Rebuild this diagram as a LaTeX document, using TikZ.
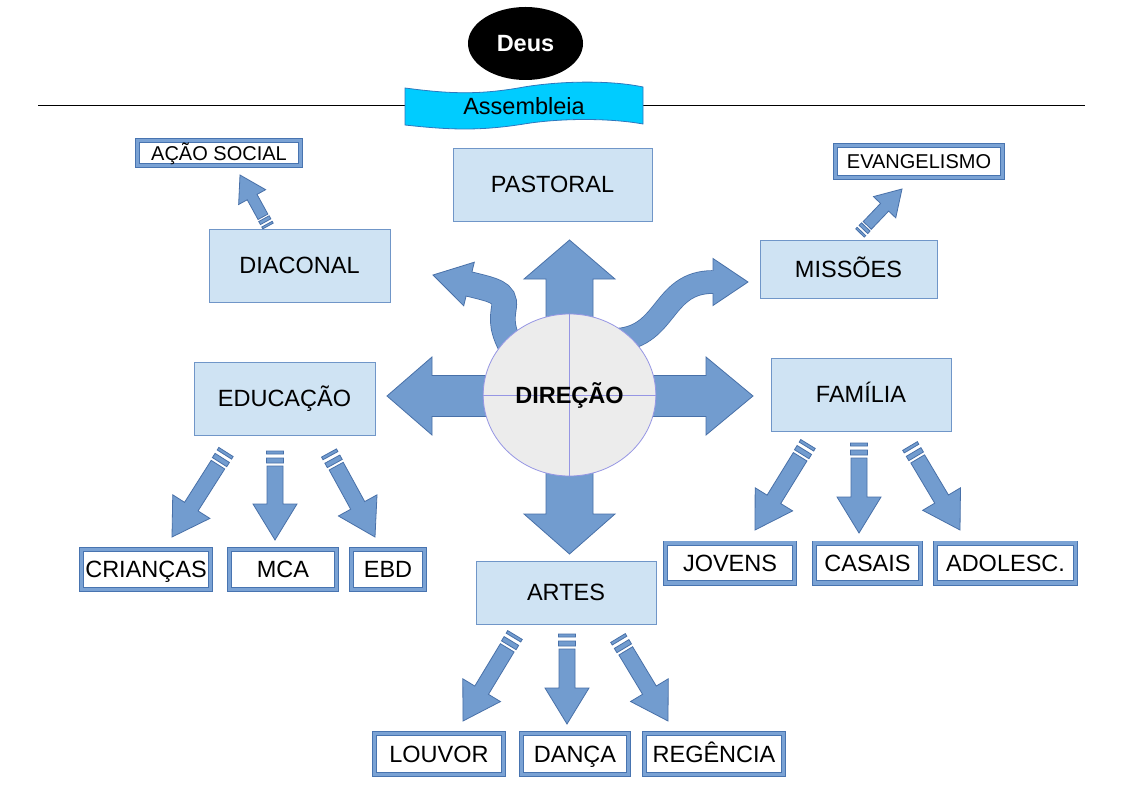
\documentclass[tikz,border=0pt]{standalone}
\usepackage{fontspec}
\setmainfont{Liberation Sans}
\usetikzlibrary{calc,shapes.geometric}
\definecolor{arrfill}{RGB}{114,156,207}
\definecolor{arrline}{RGB}{72,112,168}
\definecolor{boxfill}{RGB}{207,227,243}
\definecolor{boxline}{RGB}{112,150,200}
\definecolor{dblline}{RGB}{72,116,176}
\definecolor{dblfill}{RGB}{122,162,212}
\definecolor{bannerfill}{RGB}{0,204,255}
\definecolor{bannerline}{RGB}{45,120,190}
\definecolor{circfill}{RGB}{236,236,236}
\definecolor{circline}{RGB}{150,150,228}
\newcommand\sarrow[3]{%
  \filldraw[blk] let \p1=($(#2)-(#1)$), \n1={atan2(\y1,\x1)}, \n2={veclen(\x1,\y1)} in
    [shift={(#1)}, rotate=\n1]
    (0,-8.5*#3) -- (3*#3,-8.5*#3) -- (3*#3,8.5*#3) -- (0,8.5*#3) -- cycle
    (7*#3,-8.5*#3) -- (12*#3,-8.5*#3) -- (12*#3,8.5*#3) -- (7*#3,8.5*#3) -- cycle
    (15*#3,-8*#3) -- (\n2-36*#3,-8*#3) -- (\n2-36*#3,-22*#3) -- (\n2,0) -- (\n2-36*#3,22*#3) -- (\n2-36*#3,8*#3) -- (15*#3,8*#3) -- cycle;
}
\begin{document}
\begin{tikzpicture}[x=1pt,y=-1pt,
  big/.style={font=\fontsize{23.5}{28}\selectfont, text height=16.8pt, text depth=0pt},
  small/.style={font=\fontsize{20}{24}\selectfont, text height=14.3pt, text depth=0pt},
  unit/.style={big, draw=boxline, fill=boxfill, line width=0.8pt, inner sep=0pt},
  sub/.style={draw=dblline, double=dblfill, double distance=3.6pt, line width=0.8pt, fill=white, inner sep=0pt},
  blk/.style={fill=arrfill, draw=arrline, line width=0.8pt},
]
\useasboundingbox (0,0) rectangle (1123,794);
\fill[white] (0,0) rectangle (1123,794);

% horizontal rule and banner
\coordinate (lineL) at (38,106);
\coordinate (lineR) at (1085,106);
\draw[black, line width=1pt] (lineL) -- (lineR);
\filldraw[fill=bannerfill, draw=bannerline, line width=0.8pt]
  (405,88) .. controls (450,94) and (480,95) .. (524,87)
  .. controls (560,81) and (610,80) .. (643,87) -- (643,124)
  .. controls (610,118) and (560,118) .. (524,124)
  .. controls (480,131) and (450,130) .. (405,125) -- cycle;
\node[big] (assembleia) at (524,106) {Assembleia};

% Deus
\node[ellipse, fill=black, minimum width=115pt, minimum height=73pt, inner sep=0pt,
  text=white, font=\bfseries\fontsize{23.5}{28}\selectfont, text height=16.8pt, text depth=0pt]
  (deus) at (525.5,43.5) {Deus};

% big straight arrows
\filldraw[blk] (500,375.5) -- (432,375.5) -- (432,357) -- (387,396) -- (432,435) -- (432,416.5) -- (500,416.5) -- cycle;
\filldraw[blk] (640,375.5) -- (706,375.5) -- (706,357) -- (753,396) -- (706,435) -- (706,416.5) -- (640,416.5) -- cycle;
\filldraw[blk] (546,450) -- (546,514) -- (524,514) -- (569.5,554) -- (615,514) -- (593,514) -- (593,450) -- cycle;
\filldraw[blk] (546,340) -- (546,279) -- (524,279) -- (569.5,240) -- (615,279) -- (593,279) -- (593,340) -- cycle;

% curved arrows
\draw[arrline, line width=25.6pt] (514,352) .. controls (501,330) and (502,320) .. (504,307) .. controls (506,292) and (493,290) .. (469,284);
\filldraw[blk] (474.3,262.2) -- (433,275) -- (463.7,305.8) -- cycle;
\draw[arrfill, line width=24pt] (514,352) .. controls (501,330) and (502,320) .. (504,307) .. controls (506,292) and (493,290) .. (469,284) -- (465,283);

\draw[arrline, line width=23.6pt] (612,340) .. controls (668,340) and (660,282) .. (713,282);
\filldraw[blk] (713,258.5) -- (748,282) -- (713,305.5) -- cycle;
\draw[arrfill, line width=22pt] (612,340) .. controls (668,340) and (660,282) .. (713,282) -- (717,282);

% centre circle
\node[ellipse, draw=circline, fill=circfill, line width=0.8pt, minimum width=172.6pt,
  minimum height=162pt, inner sep=0pt] (dir) at (569.5,395) {};
\draw[circline, line width=0.8pt] (dir.north) -- (dir.south) (dir.west) -- (dir.east);
\node[font=\bfseries\fontsize{23.5}{28}\selectfont, text height=16.8pt, text depth=0pt] (dirtxt) at (569.5,395) {DIREÇÃO};

% main units
\node[unit, minimum width=199pt, minimum height=73pt] (pastoral) at (552.5,184.5) {PASTORAL};
\node[unit, minimum width=181pt, minimum height=73pt] (diaconal) at (299.5,265.5) {DIACONAL};
\node[unit, minimum width=177pt, minimum height=58pt] (missoes) at (848.5,269) {MISSÕES};
\node[unit, minimum width=181pt, minimum height=73pt] (educacao) at (284.5,398.5) {EDUCAÇÃO};
\node[unit, minimum width=180pt, minimum height=73pt] (familia) at (861,394.5) {FAMÍLIA};
\node[unit, minimum width=180pt, minimum height=63pt] (artes) at (566,592.5) {ARTES};

% sub units
\node[sub, small, minimum width=162.8pt, minimum height=24.8pt] (acao) at (219,153) {AÇÃO SOCIAL};
\node[sub, small, minimum width=166.8pt, minimum height=31.8pt] (evang) at (919,161.5) {EVANGELISMO};
\node[sub, big, minimum width=128.8pt, minimum height=39.8pt] (criancas) at (146,569.5) {CRIANÇAS};
\node[sub, big, minimum width=106.8pt, minimum height=39.8pt] (mca) at (283,569.5) {MCA};
\node[sub, big, minimum width=72.8pt, minimum height=39.8pt] (ebd) at (388,569.5) {EBD};
\node[sub, big, minimum width=128.8pt, minimum height=39.8pt] (jovens) at (730,563) {JOVENS};
\node[sub, big, minimum width=105.8pt, minimum height=39.8pt] (casais) at (867.5,563) {CASAIS};
\node[sub, big, minimum width=139.8pt, minimum height=39.8pt] (adolesc) at (1005.5,563) {ADOLESC.};
\node[sub, big, minimum width=128.8pt, minimum height=40.8pt] (louvor) at (439,754) {LOUVOR};
\node[sub, big, minimum width=106.8pt, minimum height=40.8pt] (danca) at (575,754) {DANÇA};
\node[sub, big, minimum width=138.8pt, minimum height=40.8pt] (regencia) at (714,754) {REGÊNCIA};

% striped arrow ends
\coordinate (dT) at (268,226);  \coordinate (dH) at (240,175);
\coordinate (mT) at (860,233);  \coordinate (mH) at (902,189);
\coordinate (e1T) at (226,452); \coordinate (e1H) at (172,537);
\coordinate (e2T) at (275,451); \coordinate (e2H) at (275,540);
\coordinate (e3T) at (329,453); \coordinate (e3H) at (375,537);
\coordinate (f1T) at (808,444); \coordinate (f1H) at (755,530);
\coordinate (f2T) at (859,443); \coordinate (f2H) at (859,533);
\coordinate (f3T) at (910,446); \coordinate (f3H) at (960,530);
\coordinate (a1T) at (515,635); \coordinate (a1H) at (463,721);
\coordinate (a2T) at (567,634); \coordinate (a2H) at (567,724);
\coordinate (a3T) at (618,638); \coordinate (a3H) at (668,721);

\sarrow{dT}{dH}{0.7}
\sarrow{mT}{mH}{0.7}
\sarrow{e1T}{e1H}{1}
\sarrow{e2T}{e2H}{1}
\sarrow{e3T}{e3H}{1}
\sarrow{f1T}{f1H}{1}
\sarrow{f2T}{f2H}{1}
\sarrow{f3T}{f3H}{1}
\sarrow{a1T}{a1H}{1}
\sarrow{a2T}{a2H}{1}
\sarrow{a3T}{a3H}{1}
\end{tikzpicture}
\end{document}
